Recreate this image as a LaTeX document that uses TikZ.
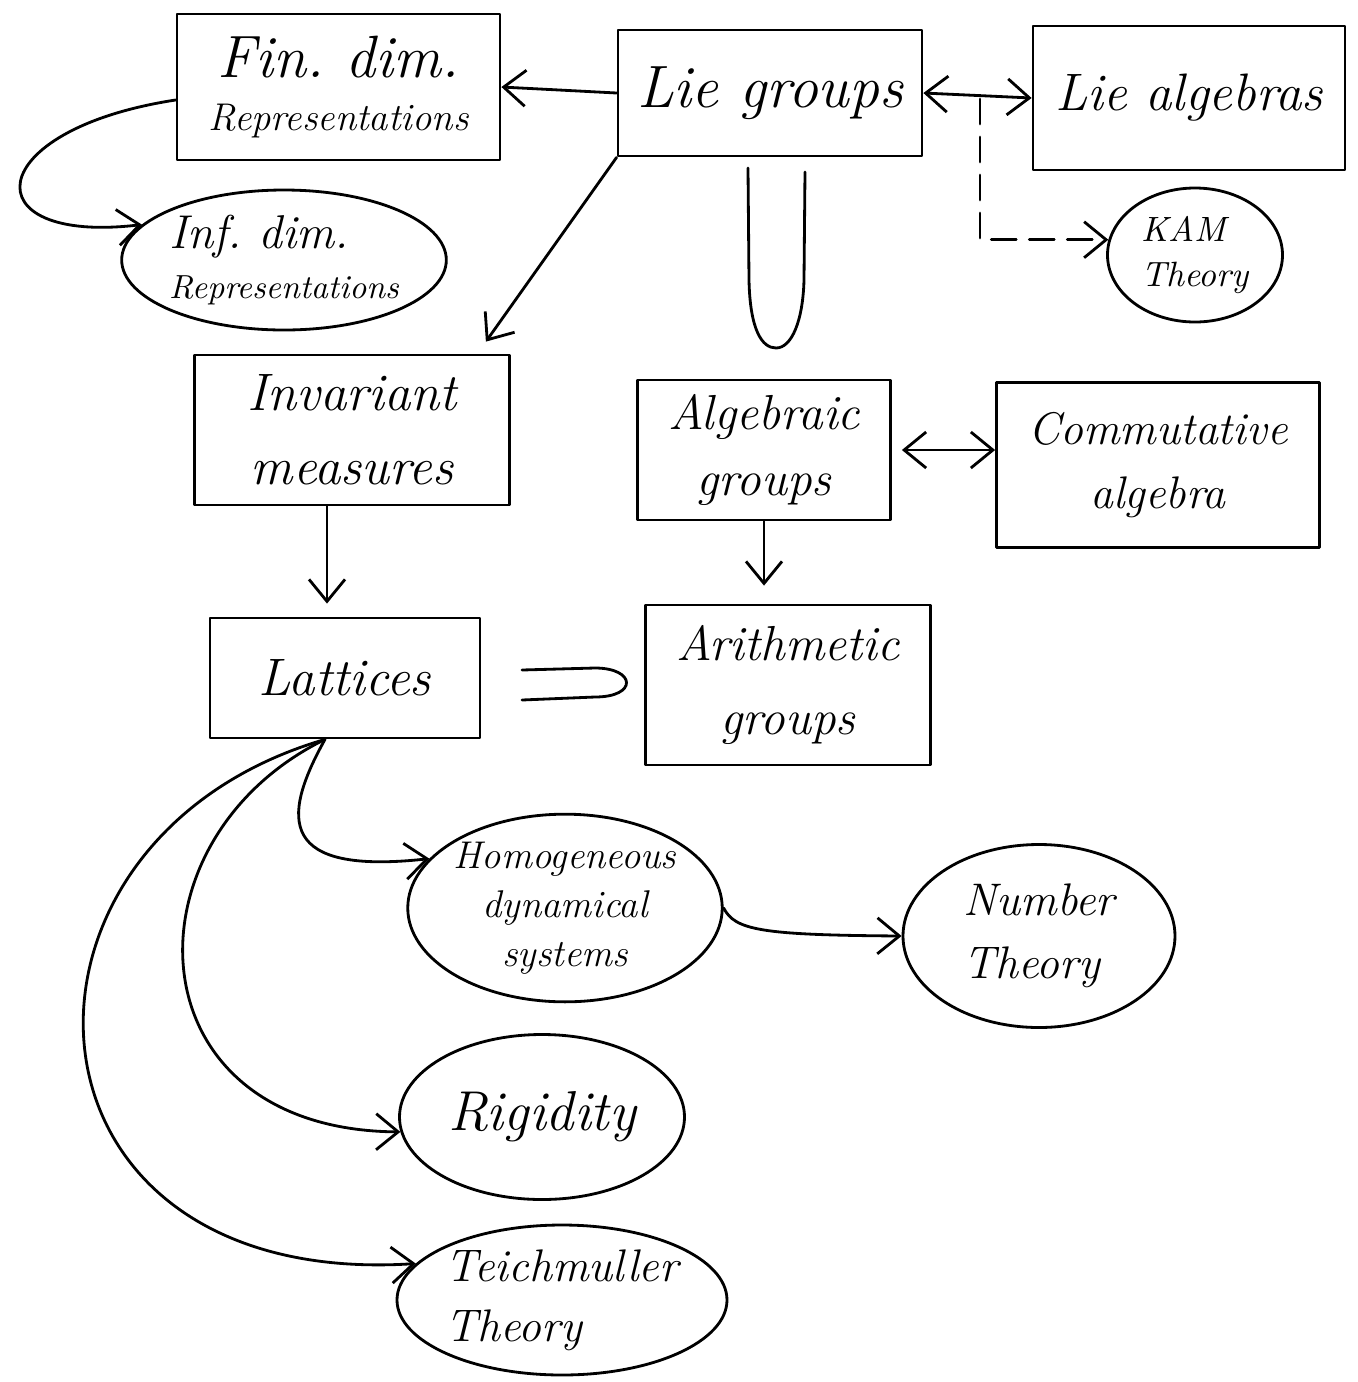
\documentclass[tikz,border=0pt]{standalone}
\usetikzlibrary{arrows.meta,shapes.geometric}
\newcommand{\hw}[2]{\fontsize{#1}{#2}\selectfont\itshape}
\tikzset{
  box/.style={draw,thick,rectangle,align=center,inner sep=2pt},
  blob/.style={draw,thick,ellipse,align=center,inner sep=0pt},
}

\begin{document}
\begin{tikzpicture}[thick,>={Straight Barb[length=2.2mm,width=3.6mm]},
    line cap=round,line join=round]
  \useasboundingbox (0,0) rectangle (13.58,-13.82);
  % top row
  \node[box,minimum width=3.23cm,minimum height=1.46cm,font=\hw{11}{13}] (fin) at (3.385,-0.87)
    {{\fontsize{17}{20}\selectfont Fin.\ dim.}\\[2pt]Representations};
  \node[box,minimum width=3.04cm,minimum height=1.26cm,font=\hw{17}{20}] (lie) at (7.70,-0.93)
    {Lie groups};
  \node[box,minimum width=3.12cm,minimum height=1.44cm,font=\hw{15}{18}] (alg) at (11.89,-0.98)
    {Lie algebras};
  \node[blob,minimum width=3.02cm,minimum height=1.40cm,align=left,font=\hw{9.5}{12}] (inf) at (2.84,-2.60)
    {{\fontsize{13.5}{16}\selectfont Inf.\ dim.}\\[2pt]Representations};
  \node[blob,minimum width=1.75cm,minimum height=1.34cm,align=left,font=\hw{10}{13}] (kam) at (11.95,-2.55)
    {KAM\\Theory};
  % middle rows
  \node[box,minimum width=3.15cm,minimum height=1.50cm,font=\hw{15}{21}] (inv) at (3.52,-4.30)
    {Invariant\\measures};
  \node[box,minimum width=2.53cm,minimum height=1.40cm,font=\hw{14}{19}] (agr) at (7.64,-4.50)
    {Algebraic\\groups};
  \node[box,minimum width=3.23cm,minimum height=1.65cm,font=\hw{13}{18}] (com) at (11.58,-4.65)
    {Commutative\\algebra};
  \node[box,minimum width=2.70cm,minimum height=1.20cm,font=\hw{15}{18}] (lat) at (3.45,-6.78)
    {Lattices};
  \node[box,minimum width=2.85cm,minimum height=1.60cm,font=\hw{14}{21}] (ari) at (7.88,-6.85)
    {Arithmetic\\groups};
  % lower blobs
  \node[blob,minimum width=3.00cm,minimum height=1.75cm,font=\hw{11}{14}] (hom) at (5.65,-9.08)
    {Homogeneous\\dynamical\\systems};
  \node[blob,minimum width=2.72cm,minimum height=1.83cm,align=left,font=\hw{13}{18}] (num) at (10.39,-9.36)
    {Number\\Theory};
  \node[blob,minimum width=2.85cm,minimum height=1.65cm,font=\hw{16}{19}] (rig) at (5.42,-11.17)
    {Rigidity};
  \node[blob,minimum width=3.30cm,minimum height=1.50cm,align=left,font=\hw{13}{17}] (tei) at (5.62,-13.00)
    {Teichmuller\\Theory};

  % connectors
  \draw[->] (lie.west) -- (fin.east);
  \draw[<->] (lie.east) -- (alg.west);
  \coordinate (kamfork) at (9.80,-0.99);
  \draw[->,dash pattern=on 2.5mm off 1.3mm] (kamfork) |- (kam.170);
  \draw[->] ([yshift=-1.3mm]fin.west) .. controls (-0.2,-1.3) and (-0.3,-2.45) .. (inf.166);
  \draw[->] (lie.south west) -- ([shift={(-0.25,0.12)}]inv.north east);
  \draw[<->] ([xshift=1mm]agr.east) -- (com.west |- agr.east);
  \draw[->,shorten >=1.8mm] (agr.south) -- (agr.south |- ari.north);
  \coordinate (invfoot) at ([xshift=-2.5mm]inv.south);
  \draw[->,shorten >=1.3mm] (invfoot) -- (invfoot |- lat.north);
  \coordinate (latfoot) at ([xshift=-2mm]lat.south);
  \draw[->] (latfoot) .. controls (2.8,-8.2) and (2.8,-8.75) .. (hom.160);
  \draw[->] (latfoot) .. controls (1.2,-8.4) and (1.3,-11.3) .. (rig.186);
  \draw[->] (latfoot) .. controls (-0.2,-8.4) and (0.0,-12.9) .. (tei.166);
  \draw[->] (hom.east) .. controls (7.35,-9.3) and (7.6,-9.35) .. (num.west);
  % inclusion signs
  \draw (7.48,-1.68) -- (7.49,-2.8) .. controls (7.50,-3.3) and (7.62,-3.48) .. (7.76,-3.48)
    .. controls (7.92,-3.48) and (8.03,-3.2) .. (8.04,-2.8) -- (8.05,-1.72);
  \draw (5.22,-6.70) -- (5.95,-6.68) .. controls (6.36,-6.68) and (6.38,-6.97) .. (5.95,-6.97)
    -- (5.22,-7.00);
\end{tikzpicture}
\end{document}
